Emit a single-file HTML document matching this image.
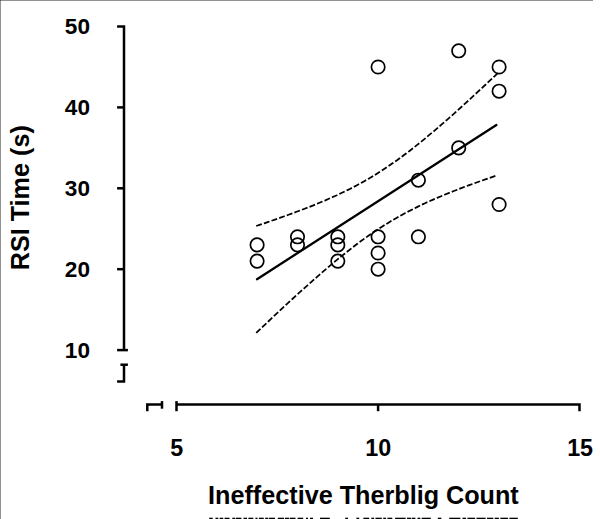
<!DOCTYPE html>
<html><head><meta charset="utf-8"><style>
html,body{margin:0;padding:0;background:#fff;}
body{width:600px;height:519px;overflow:hidden;position:relative;}
svg{position:absolute;left:0;top:0;display:block;}
text{font-family:"Liberation Sans",sans-serif;font-weight:bold;fill:#000;}
</style></head><body>
<svg width="600" height="519" viewBox="0 0 600 519">
<rect x="0" y="0" width="600" height="519" fill="#fff"/>
<rect x="0" y="0" width="593" height="1" fill="#929292"/>
<rect x="0" y="0" width="1" height="519" fill="#929292"/>
<rect x="0" y="0" width="1" height="1" fill="#585858"/>
<defs><filter id="b" x="-5%" y="-5%" width="110%" height="110%"><feGaussianBlur stdDeviation="0.3"/></filter></defs>
<g filter="url(#b)">
<g fill="none" stroke="#000" stroke-width="2.5" stroke-linecap="butt" stroke-linejoin="miter">
<path d="M117.1 26.5 H124 V350.1"/>
<path d="M117.1 107.4 H124"/>
<path d="M117.1 188.3 H124"/>
<path d="M117.1 269.2 H124"/>
<path d="M117.1 350.1 H127.9"/>
<path d="M120.4 364.7 H127.9"/>
<path d="M124 364.7 V381.5 H117.1"/>
<path d="M147.3 411.2 V404.5 H162"/>
<path d="M162 401.1 V408.7"/>
<path d="M176.5 404.5 H579.5 V411.2"/>
<path d="M176.5 401.1 V411.2"/>
<path d="M378.1 404.5 V411.2"/>
</g>
<g fill="none" stroke="#000" stroke-width="1.7">
<circle cx="257.1" cy="244.9" r="6.7"/>
<circle cx="257.1" cy="261.1" r="6.7"/>
<circle cx="297.5" cy="236.8" r="6.7"/>
<circle cx="297.5" cy="244.9" r="6.7"/>
<circle cx="337.8" cy="236.8" r="6.7"/>
<circle cx="337.8" cy="244.9" r="6.7"/>
<circle cx="337.8" cy="261.1" r="6.7"/>
<circle cx="378.1" cy="67.0" r="6.7"/>
<circle cx="378.1" cy="236.8" r="6.7"/>
<circle cx="378.1" cy="253.0" r="6.7"/>
<circle cx="378.1" cy="269.2" r="6.7"/>
<circle cx="418.4" cy="180.2" r="6.7"/>
<circle cx="418.4" cy="236.8" r="6.7"/>
<circle cx="458.7" cy="50.8" r="6.7"/>
<circle cx="458.7" cy="147.9" r="6.7"/>
<circle cx="499.1" cy="67.0" r="6.7"/>
<circle cx="499.1" cy="91.2" r="6.7"/>
<circle cx="499.1" cy="204.5" r="6.7"/>
</g>
<path d="M257 279.2 L496.4 125" stroke="#000" stroke-width="2.3" stroke-linecap="round" fill="none"/>
<path d="M256.2 226.0 L260.2 224.6 L264.3 223.3 L268.3 221.9 L272.3 220.5 L276.4 219.1 L280.4 217.7 L284.4 216.2 L288.5 214.8 L292.5 213.3 L296.5 211.8 L300.6 210.3 L304.6 208.8 L308.6 207.2 L312.7 205.6 L316.7 203.9 L320.7 202.3 L324.8 200.6 L328.8 198.8 L332.8 197.0 L336.9 195.2 L340.9 193.3 L344.9 191.4 L349.0 189.4 L353.0 187.3 L357.0 185.2 L361.1 183.0 L365.1 180.7 L369.1 178.4 L373.2 176.0 L377.2 173.5 L381.2 171.0 L385.3 168.3 L389.3 165.6 L393.3 162.8 L397.4 160.0 L401.4 157.0 L405.4 154.0 L409.5 151.0 L413.5 147.8 L417.5 144.6 L421.6 141.4 L425.6 138.1 L429.6 134.7 L433.7 131.3 L437.7 127.9 L441.7 124.4 L445.8 120.9 L449.8 117.3 L453.8 113.8 L457.9 110.1 L461.9 106.5 L465.9 102.8 L470.0 99.1 L474.0 95.4 L478.0 91.7 L482.1 87.9 L486.1 84.2 L490.1 80.4 L494.2 76.6 L498.2 72.8" stroke="#000" stroke-width="1.75" fill="none" stroke-dasharray="5.9 2.2"/>
<path d="M256.2 332.9 L260.2 329.1 L264.2 325.3 L268.3 321.5 L272.3 317.7 L276.3 313.9 L280.3 310.2 L284.3 306.4 L288.4 302.7 L292.4 299.0 L296.4 295.3 L300.4 291.7 L304.4 288.1 L308.5 284.5 L312.5 280.9 L316.5 277.3 L320.5 273.8 L324.5 270.4 L328.6 266.9 L332.6 263.5 L336.6 260.2 L340.6 256.9 L344.6 253.7 L348.7 250.5 L352.7 247.4 L356.7 244.3 L360.7 241.3 L364.7 238.4 L368.8 235.5 L372.8 232.8 L376.8 230.1 L380.8 227.4 L384.8 224.9 L388.9 222.4 L392.9 220.0 L396.9 217.7 L400.9 215.4 L404.9 213.2 L409.0 211.1 L413.0 209.1 L417.0 207.1 L421.0 205.1 L425.0 203.2 L429.1 201.4 L433.1 199.6 L437.1 197.9 L441.1 196.2 L445.1 194.5 L449.2 192.9 L453.2 191.3 L457.2 189.7 L461.2 188.1 L465.2 186.6 L469.3 185.1 L473.3 183.7 L477.3 182.2 L481.3 180.8 L485.3 179.4 L489.4 178.0 L493.4 176.6 L497.4 175.2" stroke="#000" stroke-width="1.75" fill="none" stroke-dasharray="5.9 2.2"/>
<g fill="#000"><rect x="209.2" y="517.7" width="3.5" height="2"/><rect x="215.5" y="517.7" width="2.8" height="2"/><rect x="219.7" y="517.7" width="3.5" height="2"/><rect x="224.6" y="517.7" width="4.9" height="2"/><rect x="232.3" y="517.7" width="2.8" height="2"/><rect x="235.8" y="517.7" width="5.6" height="2"/><rect x="243.5" y="517.7" width="3.5" height="2"/><rect x="248.4" y="517.7" width="4.9" height="2"/><rect x="255.4" y="517.7" width="2.1" height="2"/><rect x="258.9" y="517.7" width="4.9" height="2"/><rect x="265.2" y="517.7" width="2.8" height="2"/><rect x="268.7" y="517.7" width="6.3" height="2"/><rect x="277.8" y="517.7" width="6.2" height="2"/><rect x="285.0" y="517.7" width="4.2" height="2"/><rect x="289.9" y="517.7" width="5.6" height="2"/><rect x="297.6" y="517.7" width="5.6" height="2"/><rect x="306.0" y="517.7" width="2.0" height="2"/><rect x="310.0" y="517.7" width="3.0" height="2"/><rect x="320.0" y="517.7" width="9.8" height="2"/><rect x="345.2" y="517.7" width="2.8" height="2"/><rect x="356.4" y="517.7" width="2.8" height="2"/><rect x="363.4" y="517.7" width="5.8" height="2"/><rect x="371.3" y="517.7" width="2.8" height="2"/><rect x="375.5" y="517.7" width="6.3" height="2"/><rect x="383.2" y="517.7" width="2.8" height="2"/><rect x="387.4" y="517.7" width="4.9" height="2"/><rect x="395.1" y="517.7" width="10.5" height="2"/><rect x="407.0" y="517.7" width="4.2" height="2"/><rect x="411.9" y="517.7" width="3.5" height="2"/><rect x="417.5" y="517.7" width="2.8" height="2"/><rect x="421.7" y="517.7" width="9.1" height="2"/><rect x="437.8" y="517.7" width="3.5" height="2"/><rect x="449.2" y="517.7" width="11.2" height="2"/><rect x="462.5" y="517.7" width="3.5" height="2"/><rect x="467.4" y="517.7" width="7.7" height="2"/><rect x="476.5" y="517.7" width="9.1" height="2"/><rect x="487.0" y="517.7" width="6.3" height="2"/><rect x="494.7" y="517.7" width="4.2" height="2"/><rect x="500.3" y="517.7" width="7.7" height="2"/><rect x="509.4" y="517.7" width="8.4" height="2"/></g>
</g>
<g fill="#000" stroke="none" font-size="22.6" text-anchor="end">
<text x="90" y="34.3">50</text><text x="90" y="115">40</text><text x="90" y="196.1">30</text><text x="90" y="277">20</text><text x="90" y="357.5">10</text>
</g>
<g fill="#000" stroke="none" font-size="23.3" text-anchor="middle">
<text x="176.7" y="455.7">5</text><text x="378.3" y="455.7">10</text><text x="580.1" y="455.7">15</text>
</g>
<g fill="#000" stroke="none" font-size="25.2">
<text x="208.1" y="504.25">Ineffective Therblig Count</text>
<text transform="translate(29.3 270.3) rotate(-90)">RSI Time (s)</text>
</g>
</svg>
</body></html>
